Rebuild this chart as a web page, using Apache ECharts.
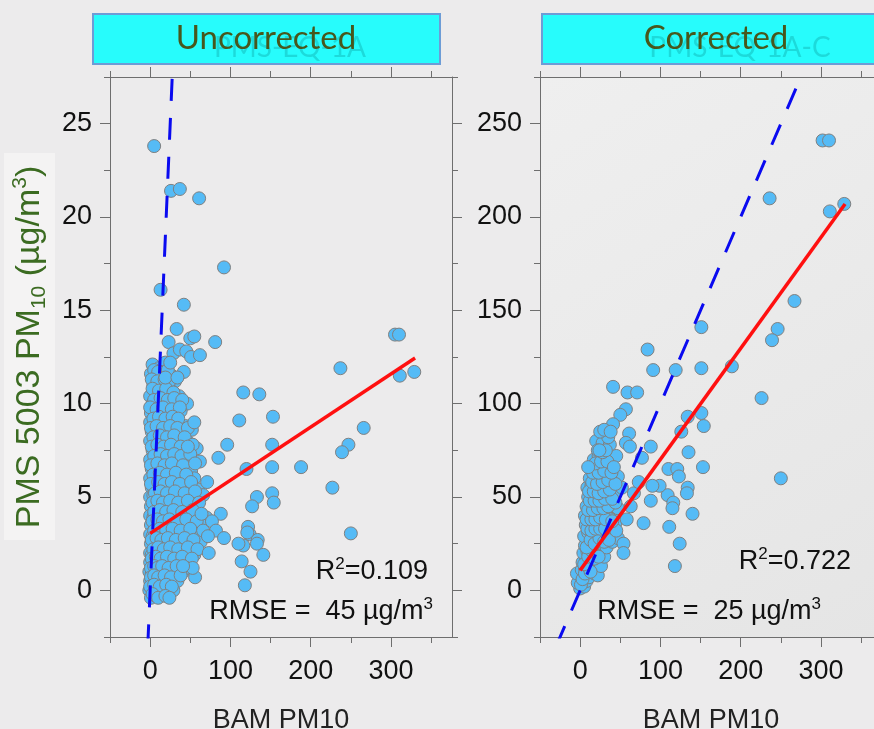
<!DOCTYPE html>
<html>
<head>
<meta charset="utf-8">
<script src="https://cdn.jsdelivr.net/npm/echarts@6/dist/echarts.min.js"></script>
<style>
  html, body { margin: 0; padding: 0; background: #ecebec; }
  #chart { width: 874px; height: 729px; }
</style>
</head>
<body>
<div id="chart"></div>
<script>
// ---- panel titles and labels ----
const panelTitles = ['Uncorrected', 'Corrected'];
const sensorNames = ['PMS-EQ-1A', 'PMS-EQ-1A-C'];
const xAxisTitle = 'BAM PM10';

// ---- tick values ----
const xMajorTicks = [0, 100, 200, 300];
const xMinorTicks = [-50, 50, 150, 250, 350];
const yMajorTicksUncorr = [0, 5, 10, 15, 20, 25];
const yMinorTicksUncorr = [-2.5, 2.5, 7.5, 12.5, 17.5, 22.5, 27.5];
const yMajorTicksCorr = [0, 50, 100, 150, 200, 250];
const yMinorTicksCorr = [-25, 25, 75, 125, 175, 225, 275];

// ---- fit statistics ----
const statsUncorr = { r2: '0.109', rmse: '45' };
const statsCorr = { r2: '0.722', rmse: '25' };

// regression line end points [BAM, PMS]
const fitUncorr = [[0, 3.05], [330, 12.45]];
const fitCorr = [[0, 10.7], [330, 207]];

// 1:1 reference line end points
const oneToOneUncorr = [[-3, -3], [28, 28]];
const oneToOneCorr = [[-30, -30], [280, 280]];

// ---- uncorrected PMS 5003 vs BAM PM10 ----
const uncorrSparse = [
  [5, 23.8], [26, 21.4], [37, 21.5], [61, 21.0], [92, 17.3], [13, 16.1], [42, 15.3],
  [33, 14.0], [23, 13.3], [50, 13.5], [55, 13.6], [81, 13.3], [29, 12.7], [37, 12.9],
  [45, 12.8], [51, 12.5], [62, 12.6], [25, 12.2], [42, 11.7], [19, 11.4], [34, 11.4],
  [55, 9.0], [47, 7.7], [96, 7.8], [85, 7.1], [71, 5.8], [88, 4.1], [77, 3.7], [82, 3.2],
  [92, 2.8], [72, 2.9], [73, 2.0], [64, 4.1], [56, 0.7], [53, 1.2], [41, 1.3]
];
const uncorrFar = [
  [237, 11.9], [305, 13.7], [310, 13.7], [311, 11.5], [329, 11.7], [116, 10.6], [136, 10.5],
  [111, 9.1], [153, 9.3], [152, 7.8], [266, 8.7], [247, 7.8], [239, 7.4], [120, 6.5],
  [152, 6.6], [188, 6.6], [227, 5.5], [133, 5.0], [127, 4.5], [152, 5.2], [154, 4.7],
  [250, 3.05], [122, 3.4], [124, 3.0], [134, 2.7], [133, 2.5], [116, 2.4], [141, 1.9],
  [114, 1.55], [125, 1.0], [118, 0.27], [110, 2.5], [121, 3.1]
];
const uncorrCluster = [
  [3, 12.1], [11, 11.9], [19, 12.2],
  [1, 11.6], [7, 11.4], [15, 11.7], [27, 11.5],
  [4, 11.0], [13, 11.1], [21, 10.9], [31, 11.2],
  [0, 10.4], [8, 10.6], [17, 10.5], [26, 10.7], [36, 10.4],
  [3, 10.0], [11, 9.9], [20, 10.1], [33, 9.8], [46, 10.0],
  [1, 9.5], [7, 9.6], [15, 9.4], [24, 9.5], [38, 9.6],
  [0, 9.0], [5, 8.9], [13, 9.1], [22, 8.9], [30, 9.0], [44, 8.8],
  [2, 8.5], [10, 8.4], [18, 8.6], [27, 8.5], [39, 8.4], [52, 8.6],
  [0, 8.0], [7, 8.1], [15, 7.9], [23, 8.0], [34, 8.1], [48, 7.9],
  [3, 7.5], [11, 7.4], [19, 7.6], [29, 7.5], [41, 7.4], [58, 7.6],
  [0, 7.0], [6, 6.9], [14, 7.1], [22, 7.0], [32, 6.9], [45, 7.1], [62, 6.9],
  [2, 6.5], [9, 6.6], [17, 6.4], [26, 6.5], [37, 6.6], [51, 6.4],
  [0, 6.0], [5, 5.9], [12, 6.1], [20, 6.0], [29, 5.9], [40, 6.1], [55, 6.0],
  [2, 5.5], [8, 5.4], [15, 5.6], [24, 5.5], [34, 5.4], [46, 5.6], [60, 5.4],
  [0, 5.0], [4, 5.1], [11, 4.9], [18, 5.0], [27, 5.1], [38, 4.9], [50, 5.0], [66, 5.1],
  [1, 4.5], [7, 4.4], [14, 4.6], [22, 4.5], [31, 4.4], [42, 4.6], [57, 4.5],
  [0, 4.0], [4, 3.9], [10, 4.1], [17, 4.0], [25, 3.9], [35, 4.1], [47, 4.0], [70, 3.9],
  [1, 3.5], [6, 3.6], [13, 3.4], [20, 3.5], [29, 3.6], [39, 3.4], [52, 3.5], [62, 3.6],
  [0, 3.0], [3, 2.9], [9, 3.1], [16, 3.0], [24, 2.9], [33, 3.1], [44, 3.0], [57, 2.9],
  [1, 2.5], [5, 2.6], [11, 2.4], [19, 2.5], [28, 2.6], [38, 2.4], [49, 2.5], [63, 2.6],
  [0, 2.0], [2, 1.9], [7, 2.1], [14, 2.0], [22, 1.9], [31, 2.1], [43, 2.0], [55, 1.9],
  [0, 1.5], [4, 1.6], [10, 1.4], [17, 1.5], [26, 1.6], [36, 1.4], [48, 1.5],
  [-1, 1.0], [2, 0.9], [6, 1.1], [12, 1.0], [20, 0.9], [29, 1.1], [41, 1.0],
  [0, 0.5], [3, 0.4], [8, 0.6], [15, 0.5], [23, 0.4], [34, 0.5],
  [-1, 0.0], [2, 0.1], [6, -0.1], [11, 0.0], [19, 0.1], [29, 0.0],
  [1, -0.4], [7, -0.3], [14, -0.2],
  [5, 11.8], [10, 11.7], [22, 11.8],
  [2, 11.3], [9, 11.2], [18, 11.3], [24, 11.2],
  [3, 10.8], [11, 10.7], [20, 10.8], [29, 10.6],
  [5, 10.2], [13, 10.3], [22, 10.2], [30, 10.3], [40, 10.2],
  [0, 9.8], [8, 9.7], [16, 9.8], [27, 9.7], [37, 9.8],
  [4, 9.2], [11, 9.3], [19, 9.2], [28, 9.3], [35, 9.2],
  [1, 8.7], [8, 8.8], [16, 8.7], [25, 8.8], [34, 8.7], [47, 8.7],
  [4, 8.2], [12, 8.3], [21, 8.2], [30, 8.3], [43, 8.2],
  [2, 7.7], [9, 7.8], [17, 7.7], [26, 7.8], [38, 7.7], [53, 7.8],
  [5, 7.2], [13, 7.3], [21, 7.2], [30, 7.3], [39, 7.2], [50, 7.3],
  [1, 6.7], [9, 6.8], [18, 6.7], [27, 6.8], [41, 6.7], [56, 6.8],
  [4, 6.2], [12, 6.3], [21, 6.2], [32, 6.3], [45, 6.2],
  [1, 5.7], [10, 5.8], [18, 5.7], [27, 5.8], [37, 5.7], [51, 5.8],
  [6, 5.2], [13, 5.3], [21, 5.2], [31, 5.3], [43, 5.2], [56, 5.3],
  [3, 4.7], [9, 4.8], [16, 4.7], [25, 4.8], [35, 4.7], [47, 4.8], [61, 4.7],
  [5, 4.2], [12, 4.3], [20, 4.2], [29, 4.3], [40, 4.2], [53, 4.3],
  [3, 3.7], [9, 3.8], [16, 3.7], [24, 3.8], [34, 3.7], [45, 3.8], [58, 3.7],
  [5, 3.2], [12, 3.3], [20, 3.2], [28, 3.3], [38, 3.2], [50, 3.3], [66, 3.2],
  [2, 2.7], [8, 2.8], [14, 2.7], [22, 2.8], [32, 2.7], [43, 2.8], [54, 2.7],
  [4, 2.2], [10, 2.3], [17, 2.2], [25, 2.3], [35, 2.2], [47, 2.3], [59, 2.2],
  [2, 1.7], [7, 1.8], [13, 1.7], [21, 1.8], [30, 1.7], [40, 1.8], [52, 1.7],
  [1, 1.2], [5, 1.3], [9, 1.2], [15, 1.3], [23, 1.2], [33, 1.3], [45, 1.2],
  [1, 0.7], [5, 0.8], [10, 0.7], [18, 0.8], [26, 0.7], [38, 0.8],
  [0, 0.2], [5, 0.3], [12, 0.2], [20, 0.3], [27, 0.2],
  [3, -0.2], [10, -0.4], [19, -0.3], [24, -0.4]
];

// ---- corrected PMS 5003 vs BAM PM10 ----
const corrFar = [
  [302, 241], [310, 241], [236, 210], [311, 203], [329, 207], [267, 155], [246, 140],
  [239, 134], [151, 141], [84, 129], [91, 118], [119, 118], [151, 119], [189, 120],
  [41, 109], [59, 106], [71, 106], [226, 103], [250, 60], [57, 97], [50, 94], [41, 89],
  [30, 86], [38, 85], [61, 84], [57, 79], [62, 77], [88, 77], [77, 71], [134, 93],
  [151, 95], [154, 88], [126, 85], [135, 74], [153, 66], [110, 65], [121, 65], [123, 61],
  [134, 55], [133, 52], [109, 51], [116, 47], [115, 44], [140, 41], [111, 34], [124, 25],
  [118, 13], [88, 48], [79, 36], [99, 56], [90, 56], [73, 58], [32, 75], [24, 75],
  [10, 66], [42, 66], [54, 25], [54, 20]
];
const corrCluster = [
  [0, 1], [2, 3], [5, 2], [1, 6], [4, 8], [8, 5], [11, 7], [-3, 4], [-4, 9],
  [2, 11], [6, 12], [10, 10], [14, 12], [18, 9], [22, 8],
  [3, 15], [7, 17], [12, 15], [16, 17], [21, 14], [26, 13],
  [4, 20], [9, 21], [14, 19], [19, 22], [24, 20], [30, 18],
  [6, 24], [11, 26], [16, 24], [21, 27], [27, 25], [33, 23], [40, 26],
  [5, 29], [10, 31], [15, 29], [20, 32], [26, 30], [32, 29], [39, 31], [47, 28],
  [7, 35], [12, 34], [17, 36], [23, 35], [29, 37], [36, 34], [44, 36],
  [6, 40], [11, 39], [16, 41], [22, 40], [28, 42], [35, 40], [42, 41], [58, 38],
  [8, 45], [13, 44], [19, 46], [25, 45], [31, 47], [38, 45], [47, 44], [63, 45],
  [10, 50], [15, 51], [21, 49], [27, 51], [34, 50], [43, 52], [67, 52],
  [9, 55], [14, 56], [20, 54], [26, 57], [33, 55], [41, 57], [52, 55],
  [12, 60], [18, 61], [24, 59], [31, 62], [38, 60], [47, 61],
  [14, 66], [20, 65], [27, 67], [35, 66],
  [17, 70], [23, 72], [30, 70], [45, 72],
  [20, 80], [28, 79], [37, 78],
  [1, 3], [3, 6], [6, 9], [9, 13], [13, 10], [5, 14], [10, 18], [15, 21], [18, 17], [23, 18],
  [8, 23], [13, 27], [18, 25], [24, 28], [30, 26], [36, 27], [9, 33], [14, 32], [19, 33],
  [25, 33], [31, 33], [38, 38], [45, 32], [8, 38], [14, 38], [19, 38], [25, 39], [32, 38],
  [40, 37], [10, 43], [16, 43], [22, 44], [29, 44], [35, 45], [44, 47], [12, 48], [18, 48],
  [24, 48], [31, 49], [40, 49], [11, 53], [17, 53], [23, 52], [30, 53], [37, 54], [15, 58],
  [21, 57], [28, 58], [35, 59], [44, 57], [16, 63], [23, 63], [30, 64], [39, 63], [19, 68],
  [26, 69], [34, 69], [22, 75], [28, 74], [35, 82], [25, 85]
];

const uncorrPoints = uncorrCluster.concat(uncorrSparse, uncorrFar);
const corrPoints = corrCluster.concat(corrFar);

// ---- layout ----
const panels = [
  { left: 110, top: 77, width: 342, height: 560, outerBoundsMode: 'none' },
  { left: 540, top: 77, width: 342, height: 560, outerBoundsMode: 'none',
    show: true, borderWidth: 0,
    backgroundColor: {
      type: 'linear', x: 0, y: 0, x2: 1, y2: 1,
      colorStops: [{ offset: 0, color: '#efefef' }, { offset: 1, color: '#e5e5e5' }]
    } }
];
const TEXT_FONT = 'Liberation Sans, Arial, sans-serif';
const AXIS_COLOR = '#6e6e6e';

function xAxesFor(gridIndex, withName) {
  const base = { gridIndex, type: 'value', min: -50, max: 376, splitLine: { show: false } };
  return [
    Object.assign({}, base, {
      position: 'bottom',
      axisLine: { show: true, onZero: false, lineStyle: { color: AXIS_COLOR } },
      axisTick: { show: true, length: 10, customValues: xMajorTicks, lineStyle: { color: AXIS_COLOR } },
      axisLabel: { show: true, customValues: xMajorTicks, margin: 21, fontSize: 27, color: '#111', fontFamily: TEXT_FONT },
      name: withName ? xAxisTitle : '',
      nameLocation: 'middle',
      nameGap: 70,
      nameTextStyle: { fontSize: 27, color: '#222', fontFamily: TEXT_FONT, verticalAlign: 'top' }
    }),
    Object.assign({}, base, {
      position: 'bottom',
      axisLine: { show: false, onZero: false },
      axisTick: { show: true, length: 6, customValues: xMinorTicks, lineStyle: { color: AXIS_COLOR } },
      axisLabel: { show: false }
    }),
    Object.assign({}, base, {
      position: 'top',
      axisLine: { show: true, onZero: false, lineStyle: { color: AXIS_COLOR } },
      axisTick: { show: true, length: 10, customValues: xMajorTicks, lineStyle: { color: AXIS_COLOR } },
      axisLabel: { show: false }
    }),
    Object.assign({}, base, {
      position: 'top',
      axisLine: { show: false, onZero: false },
      axisTick: { show: true, length: 6, customValues: xMinorTicks, lineStyle: { color: AXIS_COLOR } },
      axisLabel: { show: false }
    })
  ];
}

function yAxesFor(gridIndex, min, max, major, minor) {
  const base = { gridIndex, type: 'value', min, max, splitLine: { show: false } };
  return [
    Object.assign({}, base, {
      position: 'left',
      axisLine: { show: true, onZero: false, lineStyle: { color: AXIS_COLOR } },
      axisTick: { show: true, length: 10, customValues: major, lineStyle: { color: AXIS_COLOR } },
      axisLabel: { show: true, customValues: major, margin: 18, fontSize: 27, color: '#111', fontFamily: TEXT_FONT }
    }),
    Object.assign({}, base, {
      position: 'left',
      axisLine: { show: false, onZero: false },
      axisTick: { show: true, length: 6, customValues: minor, lineStyle: { color: AXIS_COLOR } },
      axisLabel: { show: false }
    }),
    Object.assign({}, base, {
      position: 'right',
      axisLine: { show: true, onZero: false, lineStyle: { color: AXIS_COLOR } },
      axisTick: { show: true, length: 10, customValues: major, lineStyle: { color: AXIS_COLOR } },
      axisLabel: { show: false }
    }),
    Object.assign({}, base, {
      position: 'right',
      axisLine: { show: false, onZero: false },
      axisTick: { show: true, length: 6, customValues: minor, lineStyle: { color: AXIS_COLOR } },
      axisLabel: { show: false }
    })
  ];
}

function scatterSeries(axisIdx, data) {
  return {
    type: 'scatter', xAxisIndex: axisIdx, yAxisIndex: axisIdx, data,
    symbolSize: 13, z: 2, silent: true,
    itemStyle: { color: '#55bbf6', borderColor: '#808080', borderWidth: 1, opacity: 1 }
  };
}
function lineSeries(axisIdx, data, style, z) {
  return {
    type: 'line', xAxisIndex: axisIdx, yAxisIndex: axisIdx, data,
    symbol: 'none', clip: true, z, silent: true, lineStyle: style
  };
}

const dashStyle = { color: '#0a0af0', width: 3, type: [22, 17] };
const fitStyle = { color: '#ff1010', width: 3.5 };

const textRich = {
  b: { fontSize: 27, fontFamily: TEXT_FONT, fill: '#111', lineHeight: 32 },
  sup: { fontSize: 17, fontFamily: TEXT_FONT, fill: '#111', lineHeight: 14, verticalAlign: 'top' }
};

function statText(x, y, str) {
  return {
    type: 'text', x, y, z: 20,
    style: { text: str, rich: textRich, align: 'right', verticalAlign: 'middle' }
  };
}

function titleBox(x, w, title, sensor, cx) {
  return [
    { type: 'rect', shape: { x, y: 14, width: w, height: 50 }, z: 5,
      style: { fill: '#27fcfc', stroke: '#6d9cd6', lineWidth: 2 } },
    { type: 'text', x: cx + 24, y: 48, z: 6,
      style: { text: sensor, fontSize: 28, fontFamily: 'Lato, sans-serif', fill: 'rgba(0,130,130,0.28)', align: 'center', verticalAlign: 'middle' } },
    { type: 'text', x: cx, y: 38, z: 7,
      style: { text: title, fontSize: 33, fontFamily: 'Lato, sans-serif', fill: '#47571c', align: 'center', verticalAlign: 'middle' } }
  ];
}

const LABEL_GREEN = '#3b6b21';

const option = {
  backgroundColor: '#ecebec',
  animation: false,
  grid: panels,
  xAxis: xAxesFor(0, true).concat(xAxesFor(1, true)),
  yAxis: yAxesFor(0, -2.5, 27.5, yMajorTicksUncorr, yMinorTicksUncorr)
    .concat(yAxesFor(1, -25, 275, yMajorTicksCorr, yMinorTicksCorr)),
  series: [
    scatterSeries(0, uncorrPoints),
    lineSeries(0, oneToOneUncorr, dashStyle, 4),
    lineSeries(0, fitUncorr, fitStyle, 5),
    scatterSeries(4, corrPoints),
    lineSeries(4, oneToOneCorr, dashStyle, 4),
    lineSeries(4, fitCorr, fitStyle, 5)
  ],
  graphic: [
    { type: 'rect', shape: { x: 4, y: 153, width: 51, height: 387 }, z: 1,
      style: { fill: '#f4f3f3' } },
    { type: 'text', x: 30, y: 347, rotation: Math.PI / 2, z: 2,
      style: {
        text: '{b|PMS 5003 PM}{sub|10}{b| (µg/m}{sup|3}{b|)}',
        align: 'center', verticalAlign: 'middle', fill: LABEL_GREEN,
        rich: {
          b: { fontSize: 34, fontFamily: TEXT_FONT, fill: LABEL_GREEN, lineHeight: 40 },
          sub: { fontSize: 21, fontFamily: TEXT_FONT, fill: LABEL_GREEN, lineHeight: 18, verticalAlign: 'bottom' },
          sup: { fontSize: 21, fontFamily: TEXT_FONT, fill: LABEL_GREEN, lineHeight: 18, verticalAlign: 'top' }
        }
      } }
  ].concat(
    titleBox(93, 347, panelTitles[0], sensorNames[0], 266),
    titleBox(542, 348, panelTitles[1], sensorNames[1], 716),
    [
      statText(428, 572, '{b|R}{sup|2}{b|=' + statsUncorr.r2 + '}'),
      statText(433, 612, '{b|RMSE =  ' + statsUncorr.rmse + ' µg/m}{sup|3}'),
      statText(851, 562, '{b|R}{sup|2}{b|=' + statsCorr.r2 + '}'),
      statText(821, 612, '{b|RMSE =  ' + statsCorr.rmse + ' µg/m}{sup|3}')
    ]
  )
};

const chart = echarts.init(document.getElementById('chart'), null, { renderer: 'canvas' });
chart.setOption(option);
</script>
</body>
</html>
